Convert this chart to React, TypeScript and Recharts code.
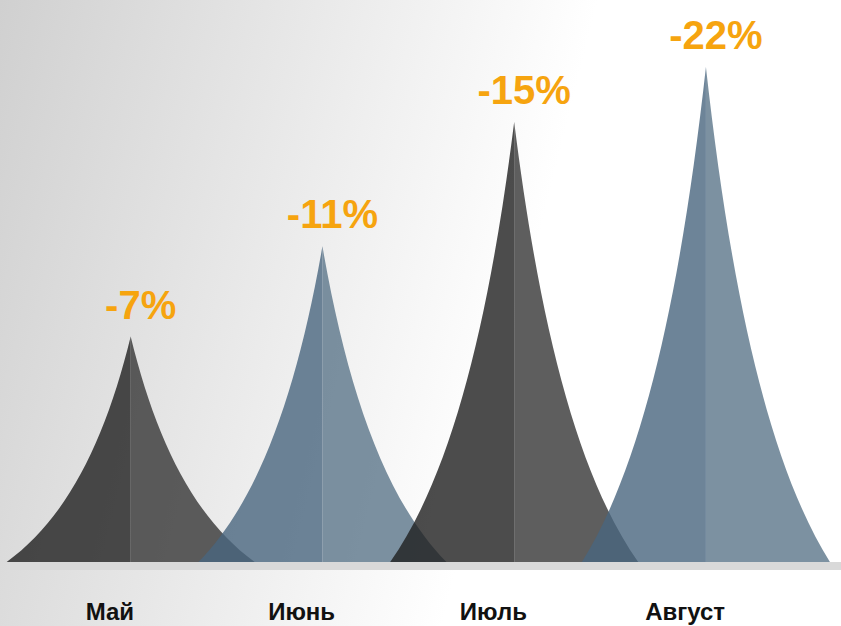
import React from 'react';
import { BarChart, Bar, XAxis, YAxis, LabelList } from 'recharts';

// months shown on the axis
const months = ['Май', 'Июнь', 'Июль', 'Август'];
// change per month, %
const changes = [-7, -11, -15, -22];
// spike height as drawn on the slide (0..500 scale)
const heights = [225, 315, 439, 494];

const data = months.map((m, i) => ({ month: m, height: heights[i], change: changes[i] }));

const LEFT = ['#1f1f1f', '#49657e'];
const RIGHT = ['#363636', '#5b758a'];
const HALF = 124;

const Spike = (props: any) => {
    const { x, y, width, height, index } = props;
    const cx = x + width / 2;
    const base = y + height;
    const c = index % 2;
    const left = `M${cx - HALF},${base} C${cx - HALF * 0.5},${base - height * 0.2} ${cx - HALF * 0.2},${base - height * 0.55} ${cx},${y} L${cx},${base} Z`;
    const right = `M${cx + HALF},${base} C${cx + HALF * 0.5},${base - height * 0.2} ${cx + HALF * 0.2},${base - height * 0.55} ${cx},${y} L${cx},${base} Z`;
    return (
        <g>
            <path d={left} fill={LEFT[c]} fillOpacity={0.8} />
            <path d={right} fill={RIGHT[c]} fillOpacity={0.8} />
        </g>
    );
};

const PctLabel = (props: any) => {
    const { x, y, width, value } = props;
    return (
        <text
            x={x + width / 2 + 10}
            y={y - 18}
            textAnchor="middle"
            fill="#f6a40f"
            fontSize={40}
            fontWeight="bold"
            fontFamily="'Liberation Sans', Arial, sans-serif"
        >
            {`${value}%`}
        </text>
    );
};

const MonthTick = (props: any) => {
    const { x, y, payload } = props;
    return (
        <text
            x={x - 21}
            y={y}
            dy={50}
            textAnchor="middle"
            fill="#111"
            fontSize={24}
            fontWeight="bold"
            fontFamily="'Liberation Sans', Arial, sans-serif"
        >
            {payload.value}
        </text>
    );
};

export default function App() {
    return (
        <div
            style={{
                position: 'absolute',
                left: 0,
                top: 0,
                width: 841,
                height: 626,
                overflow: 'hidden',
                background: 'linear-gradient(104deg, #d0d0d0 0%, #ffffff 60%, #ffffff 100%)',
            }}
        >
            <div style={{ position: 'absolute', left: 10, right: 0, top: 562, height: 8, background: '#d9d9d9' }} />
            <div style={{ position: 'absolute', left: 0, top: 0 }}>
                <BarChart width={841} height={626} data={data} margin={{ top: 61, right: 39, left: 35, bottom: 0 }}>
                    <XAxis
                        dataKey="month"
                        height={64}
                        axisLine={false}
                        tickLine={false}
                        interval={0}
                        tick={<MonthTick />}
                    />
                    <YAxis hide domain={[0, 500]} />
                    <Bar dataKey="height" shape={<Spike />} isAnimationActive={false}>
                        <LabelList dataKey="change" content={<PctLabel />} />
                    </Bar>
                </BarChart>
            </div>
        </div>
    );
}
